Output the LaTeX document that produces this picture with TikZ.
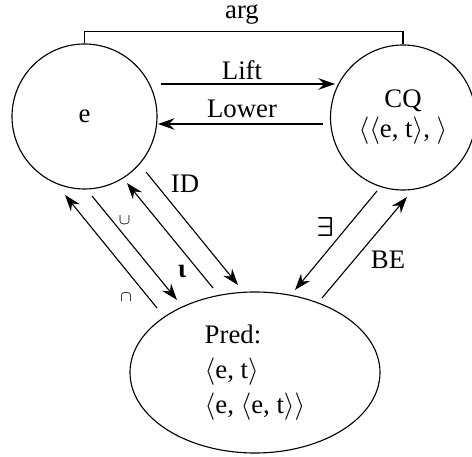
\documentclass[tikz,border=0pt]{standalone}
\usepackage{fontspec}
\usepackage{bm}
\setmainfont{Liberation Serif}
\usetikzlibrary{shapes.geometric,arrows.meta,calc}
\begin{document}
\begin{tikzpicture}[x=0.4pt,y=-0.4pt,
  font=\fontsize{10.7}{14}\selectfont,
  conn/.style={line width=0.45pt,-{Stealth[length=6.6pt,width=4.6pt,inset=2.2pt]}},
  roundnode/.style={draw,circle,minimum size=58pt,inner sep=0pt,line width=0.45pt},
  ovalnode/.style={draw,ellipse,minimum width=100pt,minimum height=64.4pt,inner sep=0pt,line width=0.45pt},
  lab/.style={inner sep=0pt},
  smalllab/.style={inner sep=0pt,font=\fontsize{6}{7}\selectfont}]
\useasboundingbox (0,0) rectangle (472,457);
\node[roundnode] (e) at (84.5,116.5) {e};
\node[roundnode,align=center] (cq) at (403,117.5) {CQ\\[-2pt]$\langle\langle$e, t$\rangle$, $\rangle$};
\node[ovalnode,align=left] (pred) at (255,372.5) {Pred:\\$\langle$e, t$\rangle$\\$\langle$e, $\langle$e, t$\rangle\rangle$};
% arg bracket
\draw[line width=0.45pt] (e.north) -- ++(0,-11.5) -| (cq.north);
\node[lab] (arg) at (242,15) {arg};
% Lift / Lower
\draw[conn] ($(e)+(76.5,-32.5)$) -- ($(cq)+(-68,-33.5)$);
\node[lab] (lift) at (242,70) {Lift};
\draw[conn] ($(cq)+(-80,6.5)$) -- ($(e)+(73.5,7.5)$);
\node[lab] (lower) at (242,109) {Lower};
% diagonal arrows between e and Pred
\draw[conn] ($(pred)+(-98,-64.5)$) -- ($(e)+(-19.5,78.5)$);
\node[smalllab] (cap) at (126,297) {$\cap$};
\draw[conn] ($(e)+(7.5,79.5)$) -- ($(pred)+(-78,-72.5)$);
\node[smalllab] (cup) at (124.5,220) {$\cup$};
\draw[conn] ($(pred)+(-42,-84.5)$) -- ($(e)+(42.5,66.5)$);
\node[lab] (iota) at (182,271) {\textbf{ι}};
\draw[conn] ($(e)+(61.5,55.5)$) -- ($(pred)+(-17,-87.5)$);
\node[lab] (id) at (185,184) {ID};
% between CQ and Pred
\draw[conn] ($(cq)+(-26,73.5)$) -- ($(pred)+(40,-82.5)$);
\node[lab] (ex) at (325,227) {$\bm{\exists}$};
\draw[conn] ($(pred)+(67,-74.5)$) -- ($(cq)+(4,79.5)$);
\node[lab] (be) at (388,260) {BE};
\end{tikzpicture}
\end{document}
